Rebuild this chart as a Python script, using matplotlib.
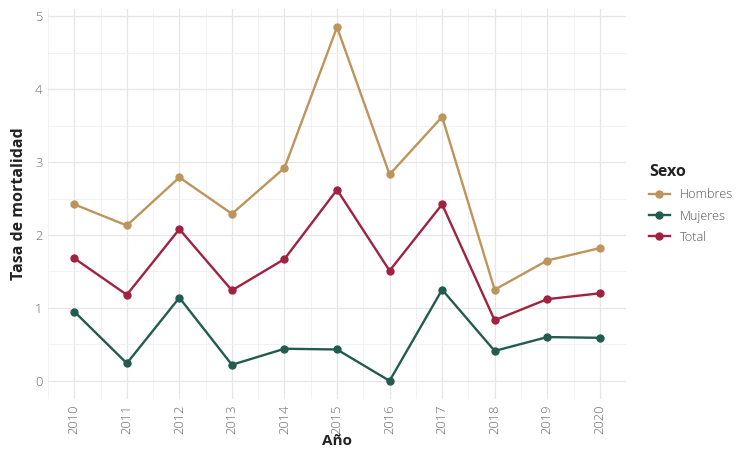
import numpy as np
import matplotlib.pyplot as plt
from matplotlib.ticker import MultipleLocator

years = [2010, 2011, 2012, 2013, 2014, 2015, 2016, 2017, 2018, 2019, 2020]
hombres = [2.42, 2.13, 2.79, 2.29, 2.92, 4.85, 2.83, 3.62, 1.25, 1.65, 1.82]
mujeres = [0.95, 0.24, 1.14, 0.22, 0.44, 0.43, 0.00, 1.25, 0.41, 0.60, 0.59]
total = [1.68, 1.18, 2.08, 1.24, 1.67, 2.62, 1.51, 2.42, 0.83, 1.12, 1.20]

series = [("Hombres", hombres, "#bc955c"),
          ("Mujeres", mujeres, "#235b4e"),
          ("Total", total, "#9f2241")]

plt.rcParams['font.family'] = ['Open Sans', 'DejaVu Sans']

fig = plt.figure(figsize=(7.43, 4.5), dpi=100)
ax = fig.add_axes([0.0646, 0.1144, 0.778, 0.8646])

for name, vals, col in series:
    ax.plot(years, vals, color=col, lw=1.7, marker='o', ms=5, label=name, zorder=3)

ax.set_xlim(2009.5, 2020.5)
ymax = max(hombres)
ax.set_ylim(-0.05 * ymax, ymax * 1.05)
ax.set_xticks(years)
ax.set_xticklabels([str(y) for y in years], rotation=90)
ax.xaxis.set_minor_locator(MultipleLocator(0.5))
ax.yaxis.set_major_locator(MultipleLocator(1))
ax.yaxis.set_minor_locator(MultipleLocator(0.5))
ax.grid(which='major', color='#e6e6e6', lw=0.9)
ax.grid(which='minor', color='#f0f0f0', lw=0.6)
ax.set_axisbelow(True)
for s in ax.spines.values():
    s.set_visible(False)
ax.tick_params(which='both', length=0)
ax.tick_params(axis='both', labelsize=9.3, labelcolor='#666666', pad=4)
for lab in ax.get_xticklabels() + ax.get_yticklabels():
    lab.set_fontweight('light')

ax.set_xlabel("Año", fontsize=11, fontweight='bold', color='#222222', labelpad=0)
ax.set_ylabel("Tasa de mortalidad", fontsize=11.5, fontweight='bold', color='#222222', labelpad=6)

leg = ax.legend(title="Sexo", loc='center left', bbox_to_anchor=(1.02, 0.5),
                frameon=False, fontsize=9.2, title_fontsize=11.5,
                handlelength=1.6, labelspacing=0.65, labelcolor='#555555',
                alignment='left')
leg.get_title().set_fontweight('bold')
leg.get_title().set_color('#222222')
for t in leg.get_texts():
    t.set_fontweight('light')

fig.savefig("out.png", dpi=100)
